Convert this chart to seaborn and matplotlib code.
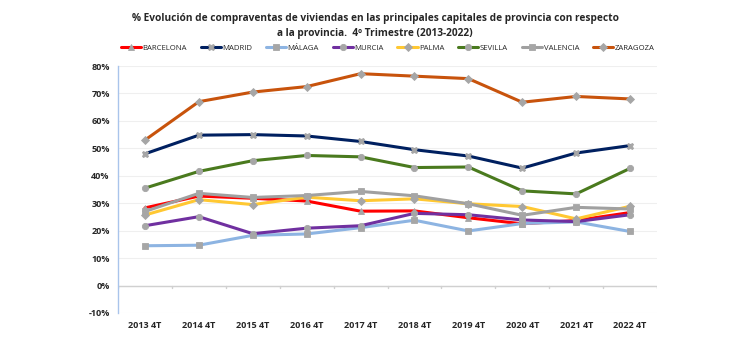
import matplotlib
matplotlib.use("Agg")
import matplotlib.pyplot as plt
import seaborn as sns
import pandas as pd

# Data
periods = ["2013 4T", "2014 4T", "2015 4T", "2016 4T", "2017 4T",
           "2018 4T", "2019 4T", "2020 4T", "2021 4T", "2022 4T"]
barcelona = [28.3, 32.6, 31.8, 30.8, 27.1, 27.2, 24.7, 22.5, 23.7, 26.6]
madrid = [48.0, 54.8, 55.0, 54.5, 52.5, 49.5, 47.2, 42.8, 48.3, 51.0]
malaga = [14.5, 14.7, 18.3, 18.8, 21.1, 23.8, 19.9, 22.6, 23.2, 19.7]
murcia = [21.8, 25.1, 18.9, 20.9, 21.8, 26.3, 25.8, 23.9, 23.3, 25.8]
palma = [25.7, 31.3, 29.5, 32.2, 30.9, 31.6, 29.8, 28.8, 24.3, 28.9]
sevilla = [35.5, 41.6, 45.5, 47.4, 46.9, 43.0, 43.2, 34.5, 33.4, 42.7]
valencia = [27.0, 33.6, 32.1, 32.8, 34.3, 32.7, 29.8, 25.6, 28.5, 27.9]
zaragoza = [53.0, 67.0, 70.5, 72.5, 77.2, 76.3, 75.4, 66.8, 68.9, 68.0]

cities = ["BARCELONA", "MADRID", "MÁLAGA", "MURCIA", "PALMA", "SEVILLA", "VALENCIA", "ZARAGOZA"]
values = [barcelona, madrid, malaga, murcia, palma, sevilla, valencia, zaragoza]
colors = ["#FF0000", "#002060", "#8DB4E2", "#7030A0", "#FFC832", "#4A7A1E", "#A0A0A0", "#C8530C"]
markers = ["^", "X", "s", "o", "D", "o", "s", "D"]
msizes = [4.5, 5, 4.5, 4.5, 3.8, 4.5, 4.5, 3.8]

rows = []
for city, vals in zip(cities, values):
    for i, v in enumerate(vals):
        rows.append({"city": city, "pos": i, "value": v})
df = pd.DataFrame(rows)

sns.set_style("white")
plt.rcParams["font.family"] = ["Open Sans", "DejaVu Sans"]

fig = plt.figure(figsize=(7.5, 3.56), dpi=100)
ax = fig.add_axes([118 / 750, 1 - 313 / 356, 539 / 750, 247 / 356])

for city, col, mk, ms in zip(cities, colors, markers, msizes):
    sns.lineplot(data=df[df.city == city], x="pos", y="value", ax=ax,
                 color=col, marker=mk, markersize=ms, linewidth=2.2,
                 markerfacecolor="#A6A6A6", markeredgecolor="#A6A6A6",
                 markeredgewidth=0.6, label=city)

ax.set_xlim(-0.5, 9.5)
ax.set_ylim(-10, 80)
ax.set_yticks(range(-10, 81, 10))
ax.set_yticklabels([f"{t}%" for t in range(-10, 81, 10)], fontsize=6.5, fontweight="bold")
ax.set_xticks(range(len(periods)))
ax.set_xticklabels(periods, fontsize=6.5, fontweight="bold")
ax.tick_params(axis="both", length=0, pad=6)
ax.set_xlabel("")
ax.set_ylabel("")

ax.grid(axis="y", color="#EFEFEF", linewidth=0.8)
ax.set_axisbelow(True)
for s in ["top", "right", "bottom"]:
    ax.spines[s].set_visible(False)
ax.spines["left"].set_color("#A9C4EB")
ax.spines["left"].set_linewidth(1.0)

# zero line with category separator ticks
ax.axhline(0, color="#D0D0D0", linewidth=1.0, zorder=1)
for b in [i + 0.5 for i in range(-1, len(periods))]:
    ax.plot([b, b], [0, -0.8], color="#D0D0D0", linewidth=1.0, zorder=1)

ax.legend(loc="lower center", bbox_to_anchor=(0.5, 1.045), ncol=8, frameon=False,
          fontsize=5.6, handlelength=2.6, columnspacing=1.75, handletextpad=0.2,
          borderaxespad=0)

fig.text(0.5, 0.963, "% Evolución de compraventas de viviendas en las principales capitales de provincia con respecto\na la provincia.  4º Trimestre (2013-2022)",
         ha="center", va="top", fontsize=7.3, fontweight="bold", linespacing=1.45)

fig.savefig("out.png", dpi=100)
